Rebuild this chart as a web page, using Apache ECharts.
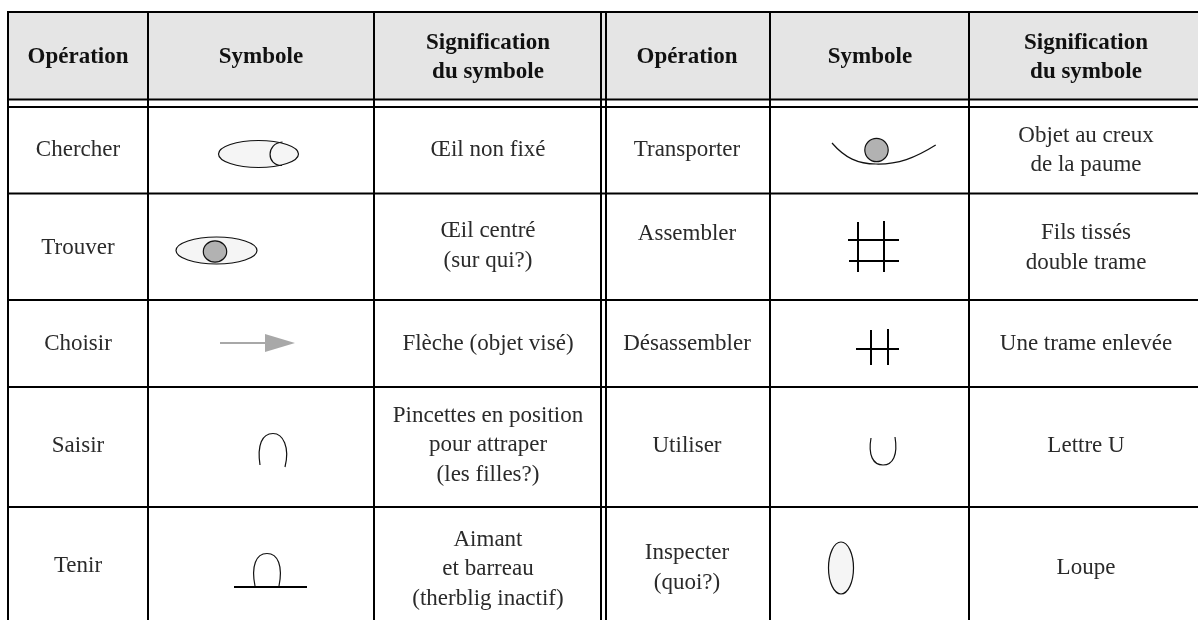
<!DOCTYPE html>
<html><head><meta charset="utf-8">
<style>html,body{margin:0;padding:0;background:#fff}#c{width:1198px;height:620px}</style>
<script src="https://cdn.jsdelivr.net/npm/echarts@6/dist/echarts.min.js"></script>
</head><body><div id="c"></div>
<script>
var headers = ['Opération', 'Symbole', 'Signification\ndu symbole', 'Opération', 'Symbole', 'Signification\ndu symbole'];
var leftOperations = ['Chercher', 'Trouver', 'Choisir', 'Saisir', 'Tenir'];
var leftMeanings = ['Œil non fixé', 'Œil centré\n(sur qui?)', 'Flèche (objet visé)', 'Pincettes en position\npour attraper\n(les filles?)', 'Aimant\net barreau\n(therblig inactif)'];
var rightOperations = ['Transporter', 'Assembler', 'Désassembler', 'Utiliser', 'Inspecter\n(quoi?)'];
var rightMeanings = ['Objet au creux\nde la paume', 'Fils tissés\ndouble trame', 'Une trame enlevée', 'Lettre U', 'Loupe'];
var columnEdges = [8, 148, 374, 601, 606, 770, 969];
var rowEdges = [12, 99.5, 107, 193.5, 300, 387, 507];
var columnCentres = [78, 261, 488, 687, 870, 1086];
var leftOpCentres = [149.5, 248, 344, 446, 566];
var leftMeanCentres = [149.5, 246, 344, 445, 569];
var rightOpCentres = [149.5, 234, 344, 446, 568];
var rightMeanCentres = [150.5, 248, 344, 446, 568];

var GREY_LIGHT = '#f5f5f5', GREY_DARK = '#b2b2b2', ARROW = '#a8a8a8', HEAD = '#e5e5e5', INK = '#000', THIN = '#111';
var FONT = '"Liberation Serif", serif';
var c;
function P(x, y) { return c([x, y]); }
function line(pts, w, col) {
  return { type: 'polyline', shape: { points: pts.map(function (p) { return P(p[0], p[1]); }) },
    style: { stroke: col || INK, lineWidth: w, fill: null } };
}
function ell(x, y, rx, ry, fill) {
  var p = P(x, y);
  return { type: 'ellipse', shape: { cx: p[0], cy: p[1], rx: rx, ry: ry }, style: { fill: fill, stroke: THIN, lineWidth: 1.2 } };
}
function bez(x1, y1, a, b, d, e, x2, y2) {
  var s = P(x1, y1), u = P(a, b), v = P(d, e), t = P(x2, y2);
  return { type: 'bezierCurve', shape: { x1: s[0], y1: s[1], cpx1: u[0], cpy1: u[1], cpx2: v[0], cpy2: v[1], x2: t[0], y2: t[1] },
    style: { fill: null, stroke: THIN, lineWidth: 1.2 } };
}
function text(x, y, s, bold) {
  var p = P(x, y);
  return { type: 'text', style: { x: p[0], y: p[1], text: s, align: 'center', verticalAlign: 'middle',
    font: (bold ? 'bold 23px ' : '23px ') + FONT, lineHeight: 29.5, fill: bold ? '#111' : '#2a2a2a' } };
}
function symbols() {
  return [
    ell(258.5, 154, 40, 13.5, GREY_LIGHT),
    bez(282.5, 142, 266, 143, 266, 166, 282, 165.5),
    ell(216.5, 250.5, 40.5, 13.5, GREY_LIGHT), ell(215, 251.5, 11.7, 10.7, GREY_DARK),
    line([[220, 343], [266, 343]], 2, ARROW),
    { type: 'polygon', shape: { points: [P(265, 334), P(295, 343), P(265, 352)] }, style: { fill: ARROW } },
    bez(260, 465, 257, 445, 262, 433.5, 273, 433.5), bez(273, 433.5, 283, 433.5, 290, 447, 285, 467),
    bez(255, 586, 251, 566, 256, 553.5, 267, 553.5), bez(267, 553.5, 278, 553.5, 283, 566, 279, 586),
    line([[234, 587], [307, 587]], 2),
    ell(876.5, 150, 11.7, 11.7, GREY_DARK),
    bez(832, 143, 845, 158, 858, 164, 876, 164), bez(876, 164, 898, 164.5, 915, 158, 935.7, 145),
    line([[858, 222], [858, 272]], 2), line([[884, 221], [884, 272]], 2),
    line([[848, 240], [899, 240]], 2), line([[849, 261], [899, 261]], 2),
    line([[871, 330], [871, 365]], 2), line([[888, 329], [888, 365]], 2),
    line([[856, 349], [899, 349]], 2),
    bez(871, 438, 868, 455, 873, 465, 883, 465), bez(883, 465, 893, 465, 898, 455, 895, 437),
    ell(841, 568, 12.5, 26, GREY_LIGHT)
  ];
}
function render(params, api) {
  c = api.coord;
  var ch = [];
  var xe = columnEdges, ye = rowEdges, R = 1198, B = 620;
  var a = P(xe[0], ye[0]), b = P(R, ye[1]);
  ch.push({ type: 'rect', shape: { x: a[0], y: a[1], width: b[0] - a[0], height: b[1] - a[1] }, style: { fill: HEAD } });
  ye.forEach(function (y) { ch.push(line([[xe[0] - 1, y], [R, y]], 2)); });
  xe.forEach(function (x) { ch.push(line([[x, ye[0]], [x, B]], 2)); });
  var cx = columnCentres;
  headers.forEach(function (s, i) { ch.push(text(cx[i], 57.5, s, true)); });
  for (var r = 0; r < 5; r++) {
    ch.push(text(cx[0], leftOpCentres[r], leftOperations[r]), text(cx[2], leftMeanCentres[r], leftMeanings[r]),
      text(cx[3], rightOpCentres[r], rightOperations[r]), text(cx[5], rightMeanCentres[r], rightMeanings[r]));
  }
  return { type: 'group', children: ch.concat(symbols()) };
}
var chart = echarts.init(document.getElementById('c'), null, { renderer: 'canvas' });
chart.setOption({
  animation: false,
  grid: { left: 0, right: 0, top: 0, bottom: 0 },
  xAxis: { type: 'value', min: 0, max: 1198, show: false },
  yAxis: { type: 'value', min: 0, max: 620, inverse: true, show: false },
  series: [{ type: 'custom', coordinateSystem: 'cartesian2d', clip: false, data: [[0, 0]], renderItem: render, silent: true }]
});
</script></body></html>
